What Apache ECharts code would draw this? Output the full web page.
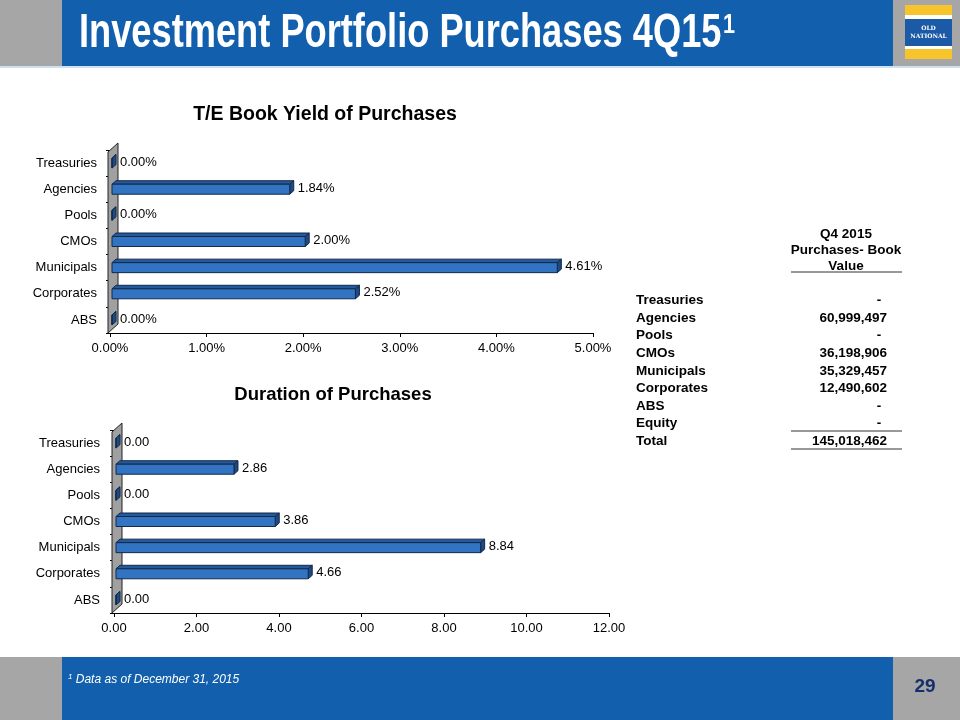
<!DOCTYPE html>
<html><head><meta charset="utf-8">
<script src="https://cdn.jsdelivr.net/npm/echarts@6/dist/echarts.min.js"></script>
<style>html,body{margin:0;padding:0;background:#fff}#c{width:960px;height:720px}</style>
</head><body><div id="c"></div>
<script>
// ---- data ----
const categories = ['Treasuries','Agencies','Pools','CMOs','Municipals','Corporates','ABS'];
const yieldValues = [0.00, 1.84, 0.00, 2.00, 4.61, 2.52, 0.00];
const durationValues = [0.00, 2.86, 0.00, 3.86, 8.84, 4.66, 0.00];
const yieldTitle = 'T/E Book Yield of Purchases';
const durationTitle = 'Duration of Purchases';
const tableHeader = ['Q4 2015', 'Purchases- Book', 'Value'];
const tableLabels = ['Treasuries','Agencies','Pools','CMOs','Municipals','Corporates','ABS','Equity','Total'];
const tableValues = ['-','60,999,497','-','36,198,906','35,329,457','12,490,602','-','-','145,018,462'];
const slideTitle = 'Investment Portfolio Purchases 4Q15';
const titleSup = '1';
const footnote = 'Data as of December 31, 2015';
const pageNumber = '29';

const FONT = '"Liberation Sans", Arial, sans-serif';
const chart = echarts.init(document.getElementById('c'), null, {renderer:'canvas'});

function barItem(fmt) {
  return function (params, api) {
    const v = api.value(0), cat = api.value(1);
    const s = api.coord([0, cat]);
    const e = api.coord([v, cat]);
    const h = 10, dx = 4, dy = 3.5, pad = 2;
    const x0 = s[0] + pad, x1 = e[0] + pad, yT = s[1] - h / 2, yB = s[1] + h / 2;
    const stroke = '#13294a';
    return {
      type: 'group',
      children: [
        {type:'polygon', shape:{points:[[x0,yT],[x1,yT],[x1+dx,yT-dy],[x0+dx,yT-dy]]},
         style:{fill:'#24599c', stroke:stroke, lineWidth:1}},
        {type:'polygon', shape:{points:[[x1,yT],[x1+dx,yT-dy],[x1+dx,yB-dy],[x1,yB]]},
         style:{fill:'#1d4a82', stroke:stroke, lineWidth:1}},
        {type:'rect', shape:{x:x0, y:yT, width:Math.max(x1-x0,0), height:h},
         style:{fill:'#3273c2', stroke:stroke, lineWidth:1}},
        {type:'text', x:x1+dx+4, y:s[1]-1,
         style:{text:fmt(v), fill:'#000', font:'13px ' + FONT, textVerticalAlign:'middle', textAlign:'left'}}
      ]
    };
  };
}
function wallItem(params, api) {
  const cs = params.coordSys;
  const x0 = cs.x, top = cs.y + 2, bot = cs.y + cs.height;
  return {type:'polygon', shape:{points:[[x0-2,bot],[x0+8,bot-9],[x0+8,top-9],[x0-2,top]]},
    style:{fill:'#a0a0a0', stroke:'#222', lineWidth:1}};
}

const grids = [
  {left:110, width:483, top:150, height:183},
  {left:114, width:495, top:430, height:183}
];
function xAx(gi, max, interval, fmt) {
  return {type:'value', gridIndex:gi, min:0, max:max, interval:interval,
    axisLine:{show:true, lineStyle:{color:'#000', width:1}},
    axisTick:{show:true, length:4, lineStyle:{color:'#000'}},
    splitLine:{show:false},
    axisLabel:{color:'#000', fontSize:13, fontFamily:FONT, margin:9, formatter:fmt}};
}
function yAx(gi, margin) {
  return {type:'category', gridIndex:gi, data:categories, inverse:true, offset:2,
    axisLine:{show:false},
    axisTick:{show:true, length:4, lineStyle:{color:'#000'}},
    axisLabel:{color:'#000', fontSize:13, fontFamily:FONT, margin:margin}};
}

const pctFmt = v => v.toFixed(2) + '%';
const numFmt = v => v.toFixed(2);

const TFONT = '"Liberation Sans Narrow", "Liberation Sans", Arial, sans-serif';
const tableX = 636, valX = 887, colC = 846;
const graphics = [
  // top band
  {type:'rect', shape:{x:0,y:0,width:960,height:66}, style:{fill:'#a6a6a6'}, z:-1},
  {type:'rect', shape:{x:62,y:0,width:831,height:66}, style:{fill:'#1260ad'}, z:-1},
  {type:'rect', shape:{x:0,y:66,width:960,height:2}, style:{fill:'#cfe0f2'}, z:-1},
  // logo
  {type:'rect', shape:{x:905,y:5,width:47,height:10}, style:{fill:'#f7c52b'}},
  {type:'rect', shape:{x:905,y:15,width:47,height:4}, style:{fill:'#ffffff'}},
  {type:'rect', shape:{x:905,y:19,width:47,height:27}, style:{fill:'#1a5aa6'}},
  {type:'rect', shape:{x:905,y:46,width:47,height:3}, style:{fill:'#ffffff'}},
  {type:'rect', shape:{x:905,y:49,width:47,height:10}, style:{fill:'#f7c52b'}},
  {type:'text', x:928.5, y:28, style:{text:'OLD', fill:'#fff', font:'bold 6px "DejaVu Serif", serif', textAlign:'center', textVerticalAlign:'middle'}},
  {type:'text', x:928.5, y:36, style:{text:'NATIONAL', fill:'#fff', font:'bold 6px "DejaVu Serif", serif', textAlign:'center', textVerticalAlign:'middle'}},
  // title
  {type:'text', x:79, y:34, scaleX:0.755,
   style:{text:slideTitle, fill:'#fff', font:'bold 48px ' + TFONT, textAlign:'left', textVerticalAlign:'middle'}},
  {type:'text', x:723, y:26, scaleX:0.8,
   style:{text:titleSup, fill:'#fff', font:'bold 27px ' + TFONT, textAlign:'left', textVerticalAlign:'middle'}},
  // bottom band
  {type:'rect', shape:{x:0,y:657,width:960,height:63}, style:{fill:'#a6a6a6'}, z:-1},
  {type:'rect', shape:{x:62,y:657,width:831,height:63}, style:{fill:'#1260ad'}, z:-1},
  {type:'text', x:68, y:680,
   style:{text:'{s|1} {t|' + footnote + '}', textVerticalAlign:'middle',
     rich:{t:{fill:'#fff', fontSize:12, fontStyle:'italic', fontFamily:FONT},
           s:{fill:'#fff', fontSize:8, fontStyle:'italic', fontFamily:FONT, verticalAlign:'top', padding:[0,0,6,0]}}}},
  {type:'text', x:925, y:687, style:{text:pageNumber, fill:'#142f6b', font:'bold 19px ' + FONT, textAlign:'center', textVerticalAlign:'middle'}},
  // table rules
  {type:'line', shape:{x1:791,y1:272,x2:902,y2:272}, style:{stroke:'#333', lineWidth:1}},
  {type:'line', shape:{x1:791,y1:431,x2:902,y2:431}, style:{stroke:'#333', lineWidth:1}},
  {type:'line', shape:{x1:791,y1:449,x2:902,y2:449}, style:{stroke:'#333', lineWidth:1}}
];
tableHeader.forEach((t, i) => {
  graphics.push({type:'text', x:colC, y:234 + i * 16,
    style:{text:t, fill:'#000', font:'bold 13.5px ' + FONT, textAlign:'center', textVerticalAlign:'middle'}});
});
tableLabels.forEach((t, i) => {
  const y = 300.5 + i * 17.6;
  graphics.push({type:'text', x:tableX, y:y,
    style:{text:t, fill:'#000', font:'bold 13.5px ' + FONT, textAlign:'left', textVerticalAlign:'middle'}});
  graphics.push({type:'text', x:tableValues[i] === '-' ? valX - 8 : valX, y:y,
    style:{text:tableValues[i], fill:'#000', font:'bold 13.5px ' + FONT, textAlign:tableValues[i] === '-' ? 'center' : 'right', textVerticalAlign:'middle'}});
});

chart.setOption({
  animation:false,
  backgroundColor:'#fff',
  title:[
    {text:yieldTitle, left:320, top:100, textAlign:'center', textStyle:{fontSize:19.5, fontWeight:'bold', color:'#000', fontFamily:FONT}},
    {text:durationTitle, left:328, top:380, textAlign:'center', textStyle:{fontSize:18.5, fontWeight:'bold', color:'#000', fontFamily:FONT}}
  ],
  grid:grids,
  xAxis:[xAx(0, 5, 1, pctFmt), xAx(1, 12, 2, numFmt)],
  yAxis:[yAx(0, 11), yAx(1, 12)],
  series:[
    {type:'custom', xAxisIndex:0, yAxisIndex:0, data:[[0,0]], renderItem:wallItem, silent:true, z:1},
    {type:'custom', xAxisIndex:0, yAxisIndex:0, data:yieldValues.map((v,i)=>[v,i]), renderItem:barItem(pctFmt), z:2},
    {type:'custom', xAxisIndex:1, yAxisIndex:1, data:[[0,0]], renderItem:wallItem, silent:true, z:1},
    {type:'custom', xAxisIndex:1, yAxisIndex:1, data:durationValues.map((v,i)=>[v,i]), renderItem:barItem(numFmt), z:2}
  ],
  graphic:graphics
});
</script></body></html>
